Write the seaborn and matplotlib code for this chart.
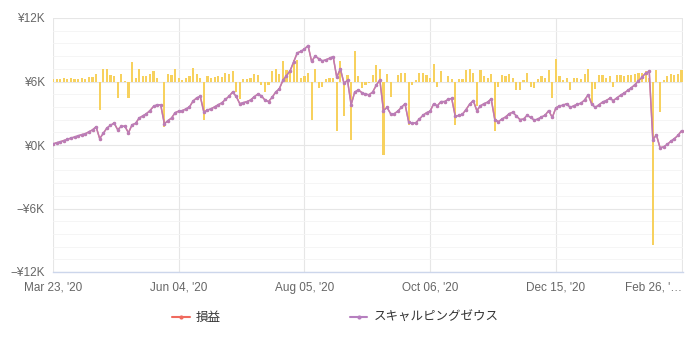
import numpy as np
import pandas as pd
import matplotlib
matplotlib.use("Agg")
import matplotlib.pyplot as plt
from matplotlib.lines import Line2D
from matplotlib.ticker import FixedLocator, MultipleLocator, FuncFormatter
import seaborn as sns

# Cumulative P&L per trading day, in yen
cumulative_yen = [
    100, 210, 300, 420, 520, 660, 750, 860, 980, 1060,
    1250, 1430, 1720, 600, 1100, 1600, 1850, 2080, 1450, 1750,
    1780, 1150, 1900, 2050, 2550, 2750, 2950, 3250, 3650, 3800,
    3780, 2000, 2300, 2550, 3050, 3200, 3250, 3400, 3600, 4150,
    4450, 4600, 3100, 3300, 3420, 3600, 3800, 3980, 4300, 4600,
    5000, 4600, 3900, 4000, 4100, 4250, 4550, 4800, 4650, 4250,
    4100, 4500, 5000, 5300, 6100, 6550, 7000, 7850, 8700, 8850,
    9050, 9400, 7900, 8400, 8150, 7950, 8050, 8200, 8350, 6400,
    7200, 5850, 6100, 3800, 5000, 5200, 4950, 4800, 4750, 5000,
    5650, 6150, 3250, 3550, 2950, 2950, 3200, 3550, 3900, 2200,
    2050, 2100, 2450, 2800, 3050, 3200, 3900, 3700, 4100, 4100,
    4300, 4400, 2700, 2800, 2900, 3350, 3850, 4200, 3250, 3700,
    3900, 4050, 4350, 2400, 2200, 2450, 2650, 2950, 3100, 2750,
    2400, 2450, 2800, 2600, 2350, 2450, 2650, 2800, 3250, 2600,
    3500, 3700, 3750, 3900, 3550, 3700, 3850, 3950, 4250, 4750,
    3850, 3550, 3800, 4050, 4200, 4400, 4200, 4450, 4700, 4900,
    5150, 5400, 5700, 6050, 6400, 6800, 6950, 500, 950, -250,
    -180, 50, 350, 600, 900, 1350,
]

tick_positions = [0, 35, 70, 105, 140, 175]
tick_labels = ["Mar 23, '20", "Jun 04, '20", "Aug 05, '20",
               "Oct 06, '20", "Dec 15, '20", "Feb 26, '\u2026"]

series_total = "損益"
series_strategy = "スキャルピングゼウス"

day = np.arange(len(cumulative_yen))
cum = np.array(cumulative_yen, dtype=float)
daily = np.diff(cum, prepend=0.0)
df = pd.DataFrame({"day": day, "cum": cum, "daily": daily})

sns.set_theme(style="white")
plt.rcParams["font.family"] = ["Liberation Sans", "Noto Sans CJK JP", "DejaVu Sans"]
plt.rcParams["axes.unicode_minus"] = True

RED = "#f06a5e"
PURPLE = "#b67fbf"
BAR = "#f7d15e"
GRID = "#e6e6e6"
TEXT = "#666666"
XMAX = 175.4
YLIM = (-12000, 12000)

fig = plt.figure(figsize=(6.89, 3.43), dpi=100)
# base axes: grid, ticks and labels
ax = fig.add_axes([53 / 689, 71 / 343, 630 / 689, 254 / 343])
# daily P&L bars on a hidden secondary scale
ax_bar = ax.twinx()
# cumulative lines on the primary scale, drawn above the bars
ax_line = ax.twinx()

sns.barplot(data=df, x="day", y="daily", native_scale=True, ax=ax_bar,
            color=BAR, saturation=1, width=0.6, errorbar=None, linewidth=0)
for patch in ax_bar.patches:
    patch.set_facecolor(BAR)
    patch.set_edgecolor("none")
    patch.set_antialiased(False)
ax_bar.set_ylim(-7500, 2500)
ax_bar.set_xlim(0, XMAX)
ax_bar.set_axis_off()

sns.lineplot(data=df, x="day", y="cum", ax=ax_line, color=RED, lw=1.0,
             marker="o", markersize=2.2, markeredgewidth=0, zorder=3)
sns.lineplot(data=df, x="day", y="cum", ax=ax_line, color=PURPLE, lw=1.1,
             marker="o", markersize=2.6, markeredgewidth=0, alpha=0.85, zorder=4)
ax_line.set_ylim(*YLIM)
ax_line.set_xlim(0, XMAX)
ax_line.set_axis_off()

ax.set_xlim(0, XMAX)
ax.set_ylim(*YLIM)
ax.yaxis.set_major_locator(MultipleLocator(6000))
ax.yaxis.set_minor_locator(MultipleLocator(1200))


def yen_k(v, _pos):
    k = int(round(v / 1000))
    if k < 0:
        return "\u2212\u00a5%dK" % (-k)
    return "\u00a5%dK" % k


ax.yaxis.set_major_formatter(FuncFormatter(yen_k))
ax.xaxis.set_major_locator(FixedLocator(tick_positions))
ax.set_xticklabels(tick_labels)
# keep the last date label inside the figure
ax.get_xticklabels()[-1].set_horizontalalignment("right")
ax.get_xticklabels()[-1].set_x(XMAX)

ax.grid(which="major", axis="both", color=GRID, lw=0.8)
ax.grid(which="minor", axis="y", color="#f4f4f4", lw=0.6)
ax.set_axisbelow(True)

for side in ["top", "right", "left"]:
    ax.spines[side].set_visible(False)
ax.spines["bottom"].set_color("#ccd6eb")
ax.spines["bottom"].set_linewidth(1.0)

ax.tick_params(axis="y", which="both", length=0, pad=6, labelsize=8.5, colors=TEXT)
ax.tick_params(axis="x", which="both", length=0, pad=7, labelsize=8.5, colors=TEXT)
ax.set_xlabel("")
ax.set_ylabel("")

handles = [
    Line2D([], [], color=RED, lw=1.5, marker="o", markersize=3, markeredgewidth=0),
    Line2D([], [], color=PURPLE, lw=1.5, marker="o", markersize=3, markeredgewidth=0),
]
fig.legend(handles, [series_total, series_strategy], loc="center",
           bbox_to_anchor=(0.487, 0.073), ncol=2, frameon=False,
           fontsize=9, handlelength=1.4, handletextpad=0.5,
           columnspacing=10.3, labelcolor="#333333")

fig.savefig("out.png", dpi=100, facecolor="white")
